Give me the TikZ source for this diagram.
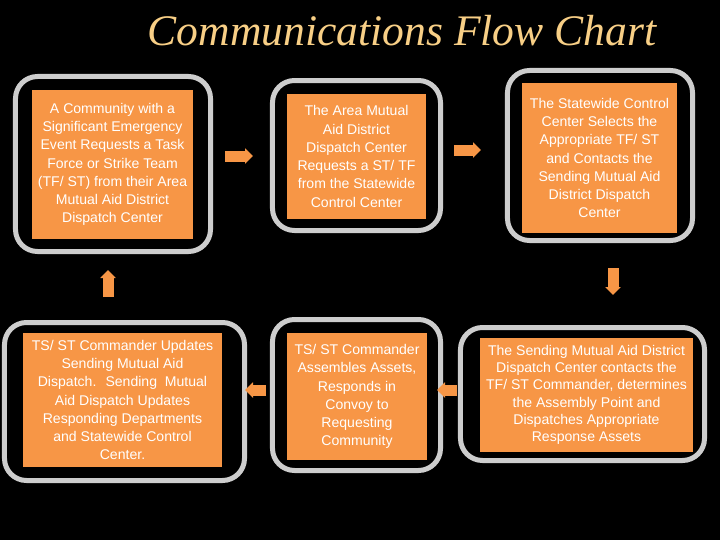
\documentclass[tikz,border=0pt]{standalone}
\usepackage{fontspec}
\setmainfont{Liberation Sans}
\newfontfamily\titlefont{Liberation Serif}
\usetikzlibrary{arrows.meta}
\definecolor{boxorange}{HTML}{F79646}
\definecolor{framegray}{HTML}{CDCDCD}
\definecolor{titletan}{HTML}{F8CF86}

\begin{document}
\begin{tikzpicture}[x=0.25mm,y=-0.25mm,
    outerframe/.style={rectangle,rounded corners=5.5mm,draw=framegray,
                       line width=1.25mm,fill=black},
    box/.style={rectangle,fill=boxorange,inner sep=0pt,text=white,align=center,
                font=\fontsize{10}{13}\selectfont},
    flow/.style={-{Triangle[width=3.75mm,length=2mm]},line width=2.75mm,boxorange}]
      \fill[black](0,0)rectangle(720,540);
      \node[font=\titlefont\itshape\fontsize{31}{36}\selectfont,text=titletan]
            (title)at(402,31){Communications Flow Chart};
      % top row
      \node[outerframe,minimum width=48.75mm,minimum height=43.75mm](f1)at(113,164){};
      \node[outerframe,minimum width=42mm,minimum height=37.5mm](f2)at(356.5,155.5){};
      \node[outerframe,minimum width=46.25mm,minimum height=42.5mm](f3)at(600,155.5){};
      \node[box,minimum width=40.25mm,minimum height=37.25mm](b1)at(112.5,164.5)
            {A Community with a\\Significant Emergency\\Event Requests a Task\\
             Force or Strike Team\\(TF/ ST) from their Area\\Mutual Aid District\\
             Dispatch Center};
      \node[box,minimum width=34.75mm,minimum height=31.25mm](b2)at(356.5,156.5)
            {The Area Mutual\\Aid District\\Dispatch Center\\Requests a ST/ TF\\
             from the Statewide\\Control Center};
      \node[box,minimum width=38.75mm,minimum height=37.5mm](b3)at(599.5,158)
            {The Statewide Control\\Center Selects the\\Appropriate TF/ ST\\
             and Contacts the\\Sending Mutual Aid\\District Dispatch\\Center};
      % bottom row
      \node[outerframe,minimum width=60mm,minimum height=39.5mm](f4)at(124.5,401.5){};
      \node[outerframe,minimum width=42mm,minimum height=37.75mm](f5)at(356.5,395){};
      \node[outerframe,minimum width=61mm,minimum height=33.25mm](f6)at(582.5,394){};
      \node[box,minimum width=49.75mm,minimum height=33.5mm](b4)at(122.5,400)
            {TS/ ST Commander Updates\\Sending Mutual Aid\\Dispatch.~ Sending~ Mutual\\
             Aid Dispatch Updates\\Responding Departments\\and Statewide Control\\Center.};
      \node[box,minimum width=35mm,minimum height=31.75mm](b5)at(357,396.5)
            {TS/ ST Commander\\Assembles Assets,\\Responds in\\Convoy to\\
             Requesting\\Community};
      \node[box,minimum width=53.25mm,minimum height=28.5mm,
            font=\fontsize{10}{12.3}\selectfont](b6)at(586.5,395)
            {The Sending Mutual Aid District\\Dispatch Center contacts the\\
             TF/ ST Commander, determines\\the Assembly Point and\\
             Dispatches Appropriate\\Response Assets};
      % arrows
      \coordinate(r1)at(225,156);
      \coordinate(r2)at(454,150);
      \coordinate(r3)at(613,268);
      \coordinate(r4)at(457,390);
      \coordinate(r5)at(266,390);
      \coordinate(r6)at(108,297);
      \draw[flow](r1)--++(28,0);
      \draw[flow](r2)--++(27,0);
      \draw[flow](r3)--++(0,27);
      \draw[flow](r4)--++(-20,0);
      \draw[flow](r5)--++(-21,0);
      \draw[flow](r6)--++(0,-27);
\end{tikzpicture}
\end{document}
